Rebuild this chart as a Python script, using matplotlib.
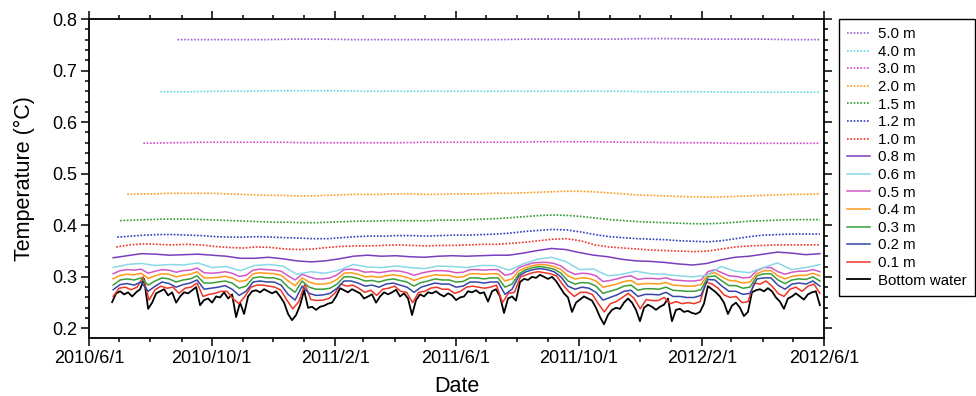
import matplotlib
matplotlib.use('Agg')
import matplotlib.pyplot as plt
import matplotlib.dates as mdates
from matplotlib.ticker import MultipleLocator, FuncFormatter
import pandas as pd

plt.rcParams['font.family'] = ['Liberation Sans', 'DejaVu Sans']

end_date = '2012-05-28'

# bottom water, every ~4 days
bw_start = '2010-06-24'
bottom_water = [
    0.251, 0.268, 0.272, 0.266, 0.270, 0.262, 0.270, 0.276, 0.296, 0.238,
    0.250, 0.268, 0.272, 0.276, 0.264, 0.270, 0.250, 0.262, 0.270, 0.268,
    0.274, 0.280, 0.245, 0.255, 0.258, 0.250, 0.262, 0.260, 0.270, 0.258,
    0.266, 0.222, 0.250, 0.228, 0.262, 0.272, 0.274, 0.270, 0.276, 0.272,
    0.268, 0.272, 0.262, 0.250, 0.228, 0.216, 0.226, 0.245, 0.274, 0.240,
    0.242, 0.236, 0.242, 0.244, 0.248, 0.250, 0.262, 0.278, 0.274, 0.270,
    0.276, 0.272, 0.268, 0.258, 0.262, 0.266, 0.250, 0.262, 0.270, 0.266,
    0.270, 0.275, 0.262, 0.268, 0.258, 0.226, 0.255, 0.266, 0.262, 0.270,
    0.268, 0.272, 0.266, 0.262, 0.268, 0.264, 0.255, 0.260, 0.262, 0.272,
    0.270, 0.274, 0.268, 0.270, 0.252, 0.272, 0.276, 0.262, 0.230, 0.258,
    0.262, 0.254, 0.290, 0.296, 0.294, 0.300, 0.298, 0.304, 0.300, 0.296,
    0.300, 0.292, 0.280, 0.268, 0.260, 0.232, 0.250, 0.256, 0.262, 0.258,
    0.254, 0.240, 0.222, 0.208, 0.226, 0.236, 0.240, 0.238, 0.250, 0.258,
    0.250, 0.236, 0.214, 0.240, 0.246, 0.242, 0.236, 0.242, 0.246, 0.258,
    0.214, 0.236, 0.238, 0.232, 0.234, 0.230, 0.228, 0.232, 0.248, 0.282,
    0.276, 0.270, 0.262, 0.250, 0.228, 0.244, 0.250, 0.240, 0.224, 0.232,
    0.270, 0.274, 0.276, 0.272, 0.278, 0.272, 0.260, 0.252, 0.238, 0.258,
    0.262, 0.268, 0.262, 0.256, 0.266, 0.270, 0.272, 0.245,
]

# 0.1 m, every ~6 days
d01_start = '2010-06-25'
d01 = [
    0.262, 0.278, 0.280, 0.275, 0.280, 0.300, 0.255, 0.275, 0.282, 0.278,
    0.280, 0.268, 0.278, 0.280, 0.288, 0.262, 0.266, 0.268, 0.272, 0.272,
    0.258, 0.248, 0.262, 0.280, 0.284, 0.284, 0.282, 0.280, 0.274, 0.255,
    0.238, 0.252, 0.286, 0.256, 0.254, 0.255, 0.258, 0.268, 0.286, 0.282,
    0.284, 0.278, 0.270, 0.274, 0.264, 0.276, 0.278, 0.282, 0.272, 0.270,
    0.250, 0.270, 0.272, 0.278, 0.280, 0.276, 0.276, 0.268, 0.272, 0.280,
    0.282, 0.280, 0.278, 0.280, 0.284, 0.250, 0.268, 0.270, 0.300, 0.304,
    0.308, 0.310, 0.308, 0.306, 0.302, 0.286, 0.272, 0.262, 0.270, 0.270,
    0.266, 0.248, 0.232, 0.248, 0.252, 0.260, 0.268, 0.258, 0.238, 0.256,
    0.254, 0.254, 0.260, 0.248, 0.252, 0.248, 0.250, 0.248, 0.252, 0.290,
    0.286, 0.278, 0.265, 0.260, 0.262, 0.250, 0.252, 0.288, 0.286, 0.292,
    0.282, 0.268, 0.262, 0.276, 0.280, 0.272, 0.282, 0.286, 0.268,
]

# 0.2 m - 0.5 m, weekly
weekly_start = '2010-06-25'
d02 = [
    0.275, 0.285, 0.287, 0.284, 0.290, 0.272, 0.282, 0.290, 0.287, 0.280,
    0.285, 0.288, 0.294, 0.276, 0.278, 0.280, 0.283, 0.276, 0.264, 0.272,
    0.290, 0.292, 0.290, 0.290, 0.284, 0.266, 0.255, 0.282, 0.268, 0.264,
    0.265, 0.268, 0.278, 0.292, 0.292, 0.288, 0.282, 0.284, 0.280, 0.286,
    0.288, 0.284, 0.280, 0.270, 0.280, 0.284, 0.288, 0.286, 0.286, 0.280,
    0.282, 0.290, 0.290, 0.288, 0.290, 0.290, 0.266, 0.276, 0.302, 0.310,
    0.314, 0.316, 0.314, 0.310, 0.300, 0.282, 0.276, 0.280, 0.278, 0.270,
    0.255, 0.260, 0.265, 0.272, 0.274, 0.262, 0.266, 0.266, 0.265, 0.270,
    0.262, 0.262, 0.260, 0.260, 0.264, 0.295, 0.294, 0.282, 0.272, 0.272,
    0.266, 0.268, 0.296, 0.298, 0.298, 0.284, 0.276, 0.286, 0.288, 0.286,
    0.292, 0.282,
]
d03 = [
    0.284, 0.294, 0.296, 0.294, 0.298, 0.284, 0.292, 0.298, 0.296, 0.290,
    0.294, 0.296, 0.302, 0.288, 0.288, 0.290, 0.292, 0.288, 0.278, 0.282,
    0.298, 0.300, 0.298, 0.298, 0.294, 0.280, 0.270, 0.292, 0.280, 0.276,
    0.276, 0.278, 0.286, 0.300, 0.300, 0.297, 0.292, 0.293, 0.290, 0.294,
    0.296, 0.293, 0.290, 0.282, 0.289, 0.292, 0.296, 0.294, 0.294, 0.290,
    0.291, 0.298, 0.298, 0.296, 0.298, 0.298, 0.280, 0.286, 0.306, 0.314,
    0.318, 0.320, 0.318, 0.315, 0.307, 0.292, 0.286, 0.289, 0.288, 0.282,
    0.268, 0.272, 0.276, 0.282, 0.284, 0.274, 0.277, 0.277, 0.276, 0.280,
    0.274, 0.273, 0.272, 0.272, 0.275, 0.300, 0.302, 0.292, 0.283, 0.283,
    0.278, 0.280, 0.302, 0.306, 0.306, 0.294, 0.287, 0.294, 0.296, 0.295,
    0.300, 0.292,
]
d04 = [
    0.296, 0.303, 0.305, 0.304, 0.307, 0.297, 0.302, 0.306, 0.305, 0.300,
    0.303, 0.305, 0.310, 0.298, 0.298, 0.299, 0.301, 0.298, 0.291, 0.293,
    0.306, 0.308, 0.307, 0.306, 0.303, 0.292, 0.283, 0.298, 0.290, 0.286,
    0.286, 0.288, 0.295, 0.307, 0.308, 0.305, 0.300, 0.301, 0.299, 0.302,
    0.304, 0.302, 0.299, 0.293, 0.298, 0.301, 0.304, 0.303, 0.303, 0.299,
    0.300, 0.306, 0.306, 0.305, 0.306, 0.306, 0.292, 0.296, 0.312, 0.318,
    0.322, 0.324, 0.323, 0.320, 0.314, 0.302, 0.296, 0.298, 0.297, 0.292,
    0.280, 0.283, 0.286, 0.291, 0.293, 0.285, 0.287, 0.287, 0.286, 0.289,
    0.284, 0.283, 0.282, 0.282, 0.285, 0.305, 0.308, 0.300, 0.293, 0.292,
    0.288, 0.290, 0.306, 0.312, 0.312, 0.302, 0.296, 0.301, 0.303, 0.303,
    0.307, 0.302,
]
d05 = [
    0.306, 0.312, 0.314, 0.313, 0.315, 0.307, 0.311, 0.314, 0.313, 0.309,
    0.312, 0.313, 0.317, 0.308, 0.307, 0.308, 0.310, 0.307, 0.301, 0.303,
    0.313, 0.315, 0.314, 0.313, 0.311, 0.302, 0.294, 0.305, 0.300, 0.296,
    0.296, 0.298, 0.304, 0.314, 0.315, 0.313, 0.309, 0.310, 0.308, 0.310,
    0.312, 0.311, 0.308, 0.303, 0.307, 0.310, 0.312, 0.312, 0.311, 0.308,
    0.309, 0.314, 0.314, 0.313, 0.314, 0.314, 0.303, 0.306, 0.318, 0.323,
    0.327, 0.328, 0.328, 0.326, 0.321, 0.311, 0.305, 0.307, 0.306, 0.302,
    0.291, 0.293, 0.296, 0.300, 0.302, 0.295, 0.297, 0.297, 0.296, 0.298,
    0.294, 0.293, 0.292, 0.292, 0.294, 0.310, 0.314, 0.308, 0.302, 0.301,
    0.298, 0.299, 0.312, 0.318, 0.318, 0.310, 0.305, 0.309, 0.311, 0.311,
    0.314, 0.310,
]

# 0.6 m and 0.8 m, fortnightly
fortnight_start = '2010-06-25'
d06 = [
    0.318, 0.324, 0.326, 0.322, 0.324, 0.323, 0.327, 0.318, 0.320, 0.312,
    0.322, 0.324, 0.321, 0.305, 0.310, 0.307, 0.313, 0.324, 0.319, 0.318,
    0.321, 0.318, 0.316, 0.321, 0.320, 0.318, 0.322, 0.322, 0.313, 0.325,
    0.334, 0.338, 0.330, 0.314, 0.315, 0.302, 0.305, 0.311, 0.306, 0.305,
    0.302, 0.300, 0.303, 0.320, 0.311, 0.308, 0.318, 0.327, 0.314, 0.318,
    0.324,
]
d08 = [
    0.337, 0.341, 0.345, 0.344, 0.342, 0.343, 0.344, 0.342, 0.340, 0.336,
    0.336, 0.338, 0.335, 0.331, 0.329, 0.331, 0.335, 0.340, 0.342, 0.340,
    0.341, 0.339, 0.338, 0.340, 0.341, 0.340, 0.341, 0.342, 0.342, 0.346,
    0.351, 0.355, 0.353, 0.347, 0.342, 0.339, 0.334, 0.331, 0.330, 0.328,
    0.325, 0.323, 0.326, 0.333, 0.338, 0.340, 0.344, 0.348, 0.346, 0.343,
    0.345,
]

# deeper loggers (dotted)
d10_start = '2010-06-28'
d10 = [
    0.358, 0.362, 0.364, 0.363, 0.362, 0.363, 0.362, 0.359, 0.357, 0.356,
    0.358, 0.357, 0.354, 0.353, 0.354, 0.357, 0.359, 0.360, 0.360, 0.361,
    0.362, 0.361, 0.360, 0.361, 0.361, 0.362, 0.363, 0.363, 0.365, 0.367,
    0.370, 0.373, 0.374, 0.370, 0.362, 0.358, 0.356, 0.354, 0.352, 0.351,
    0.350, 0.349, 0.350, 0.354, 0.358, 0.360, 0.361, 0.362, 0.362, 0.362,
    0.362,
]
d12_start = '2010-06-29'
d12 = [
    0.377, 0.379, 0.381, 0.382, 0.382, 0.381, 0.380, 0.378, 0.377, 0.377,
    0.378, 0.377, 0.376, 0.375, 0.374, 0.374, 0.376, 0.378, 0.379, 0.379,
    0.380, 0.380, 0.379, 0.380, 0.381, 0.381, 0.382, 0.383, 0.385, 0.388,
    0.390, 0.392, 0.391, 0.387, 0.382, 0.378, 0.376, 0.374, 0.373, 0.372,
    0.370, 0.369, 0.368, 0.370, 0.374, 0.378, 0.381, 0.382, 0.383, 0.383,
    0.383,
]
d15_start = '2010-07-02'
d15 = [
    0.409, 0.410, 0.411, 0.412, 0.412, 0.412, 0.411, 0.410, 0.409, 0.408,
    0.407, 0.406, 0.406, 0.405, 0.405, 0.406, 0.407, 0.408, 0.408, 0.409,
    0.409, 0.409, 0.409, 0.410, 0.410, 0.411, 0.412, 0.413, 0.415, 0.417,
    0.419, 0.420, 0.419, 0.417, 0.414, 0.411, 0.409, 0.407, 0.406, 0.405,
    0.404, 0.403, 0.403, 0.404, 0.406, 0.408, 0.409, 0.410, 0.411, 0.411,
    0.411,
]
d20_start = '2010-07-09'
d20 = [
    0.460, 0.461, 0.461, 0.462, 0.462, 0.462, 0.462, 0.461, 0.460, 0.459,
    0.458, 0.458, 0.457, 0.457, 0.458, 0.459, 0.460, 0.460, 0.460, 0.461,
    0.461, 0.460, 0.460, 0.461, 0.461, 0.461, 0.462, 0.462, 0.463, 0.464,
    0.465, 0.466, 0.466, 0.465, 0.463, 0.461, 0.459, 0.458, 0.457, 0.456,
    0.455, 0.455, 0.455, 0.456, 0.457, 0.458, 0.459, 0.460, 0.460, 0.461,
]
d30_start = '2010-07-25'
d30 = [
    0.559, 0.560, 0.561, 0.561, 0.561, 0.561, 0.560, 0.560, 0.560, 0.560,
    0.561, 0.561, 0.561, 0.561, 0.562, 0.562, 0.562, 0.561, 0.561, 0.560,
    0.560, 0.559, 0.559, 0.559, 0.559,
]
d40_start = '2010-08-11'
d40 = [
    0.659, 0.659, 0.660, 0.660, 0.661, 0.661, 0.661, 0.660, 0.660, 0.660,
    0.660, 0.660, 0.660, 0.660, 0.660, 0.660, 0.660, 0.659, 0.659, 0.659,
    0.658, 0.658, 0.658, 0.658,
]
d50_start = '2010-08-28'
d50 = [
    0.760, 0.760, 0.760, 0.760, 0.761, 0.761, 0.760, 0.760, 0.760, 0.760,
    0.760, 0.760, 0.761, 0.761, 0.761, 0.761, 0.762, 0.762, 0.761, 0.761,
    0.761, 0.760, 0.760,
]

dotted = (0, (1, 1))
# (label, start, values, colour, linestyle)
series = [
    ('Bottom water', bw_start, bottom_water, 'black', '-'),
    ('0.1 m', d01_start, d01, '#ee3526', '-'),
    ('0.2 m', weekly_start, d02, '#3545a8', '-'),
    ('0.3 m', weekly_start, d03, '#3a9e3a', '-'),
    ('0.4 m', weekly_start, d04, '#ff9a1a', '-'),
    ('0.5 m', weekly_start, d05, '#d058c8', '-'),
    ('0.6 m', fortnight_start, d06, '#8ad8e6', '-'),
    ('0.8 m', fortnight_start, d08, '#7a3ec0', '-'),
    ('1.0 m', d10_start, d10, '#ee3526', dotted),
    ('1.2 m', d12_start, d12, '#3040c0', dotted),
    ('1.5 m', d15_start, d15, '#2e9a2e', dotted),
    ('2.0 m', d20_start, d20, '#ff9a1a', dotted),
    ('3.0 m', d30_start, d30, '#d84ad0', dotted),
    ('4.0 m', d40_start, d40, '#5ed8e0', dotted),
    ('5.0 m', d50_start, d50, '#9a60d0', dotted),
]

fig = plt.figure(figsize=(9.76, 3.96), dpi=100)
ax = fig.add_axes([0.0912, 0.1472, 0.753, 0.8048])

handles = []
for label, start, vals, color, ls in series:
    dates = pd.date_range(start, end_date, periods=len(vals))
    if label == 'Bottom water':
        lw = 1.3
    else:
        lw = 1.1 if ls == '-' else 1.2
    h, = ax.plot(dates, vals, color=color, linestyle=ls, linewidth=lw, label=label)
    handles.append(h)

ax.set_xlim(pd.Timestamp('2010-06-01'), pd.Timestamp('2012-06-01'))
ax.set_ylim(0.182, 0.8)

ax.xaxis.set_major_locator(mdates.MonthLocator(bymonth=[2, 6, 10], bymonthday=1))
ax.xaxis.set_minor_locator(mdates.MonthLocator(bymonthday=1))
ax.xaxis.set_major_formatter(FuncFormatter(
    lambda v, pos: '{0.year}/{0.month}/{0.day}'.format(mdates.num2date(v))))
ax.yaxis.set_major_locator(MultipleLocator(0.1))
ax.yaxis.set_minor_locator(MultipleLocator(0.02))
ax.yaxis.set_major_formatter(FuncFormatter(lambda v, pos: f'{v:.1f}'))

ax.tick_params(which='both', direction='out', top=True, right=True,
               width=1.1, labelsize=13, pad=3)
ax.tick_params(which='major', length=5.5)
ax.tick_params(which='minor', length=3)
for s in ax.spines.values():
    s.set_linewidth(1.3)

ax.set_xlabel('Date', fontsize=15.5, labelpad=7)
ax.set_ylabel('Temperature (°C)', fontsize=15.5, labelpad=12)

leg = fig.legend(handles[::-1], [h.get_label() for h in handles[::-1]],
                 loc='upper left', bbox_to_anchor=(839 / 976, 1 - 19 / 396),
                 bbox_transform=fig.transFigure, borderaxespad=0,
                 fontsize=10.8, labelspacing=0.24, handlelength=1.5,
                 handletextpad=0.55, borderpad=0.55, fancybox=False,
                 framealpha=1, edgecolor='black')
leg.get_frame().set_linewidth(1.0)

fig.savefig('out.png', dpi=100)
